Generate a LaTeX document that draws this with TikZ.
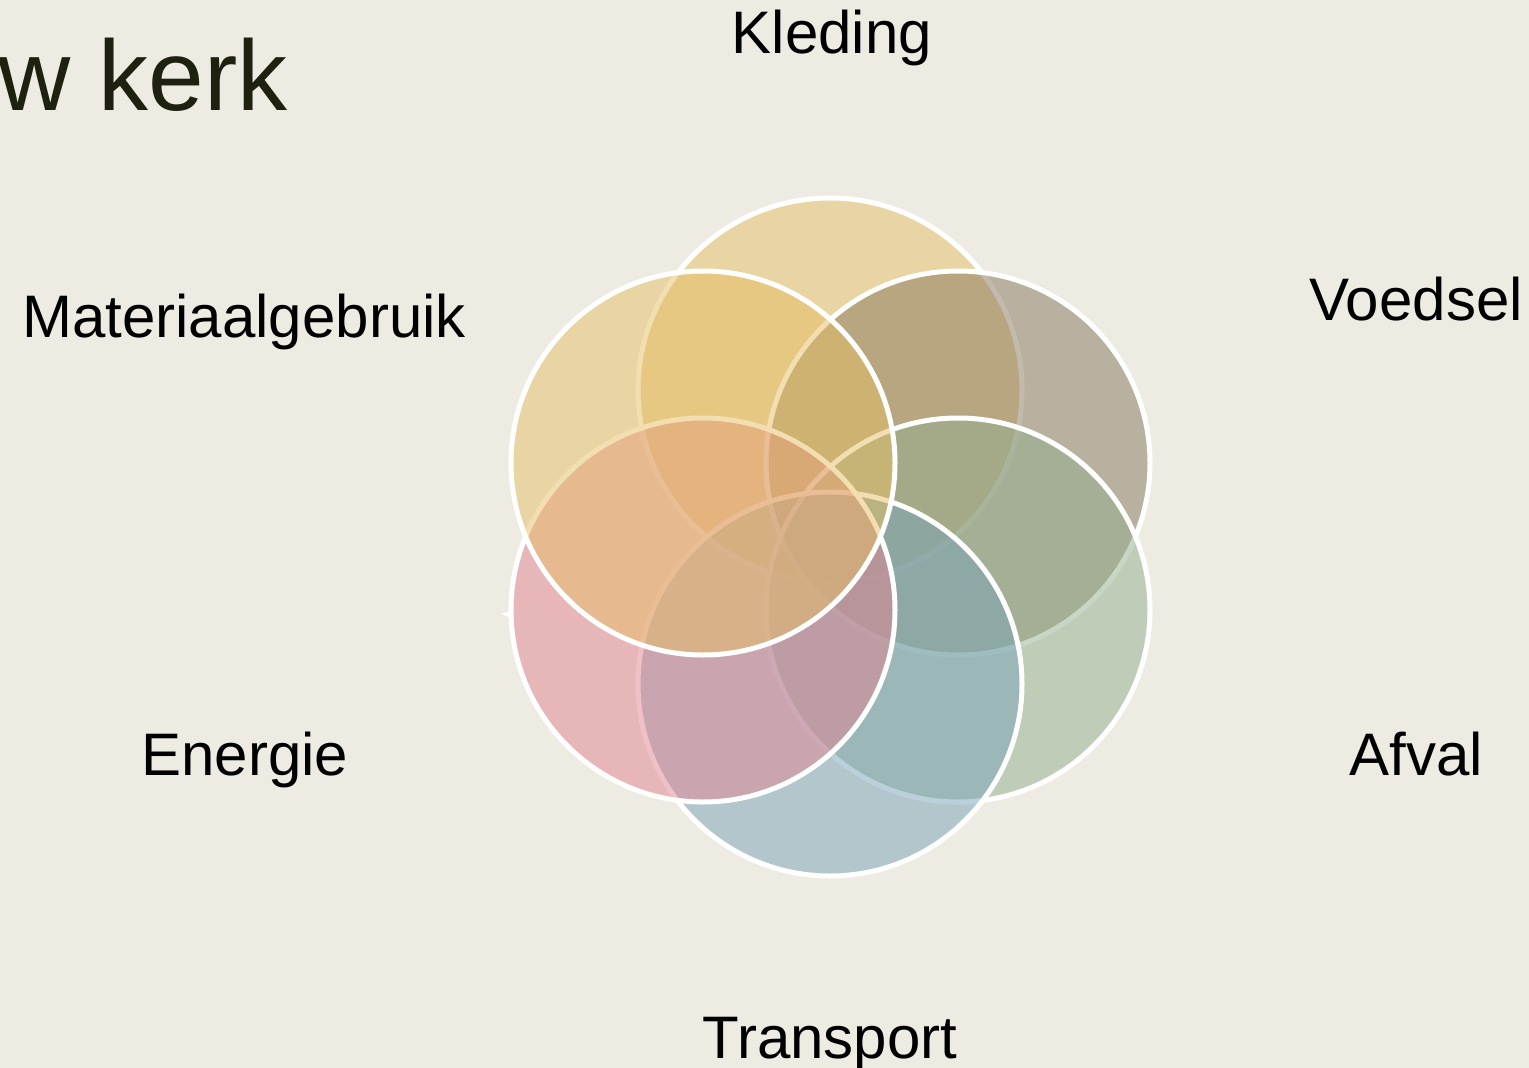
\documentclass[tikz,border=0pt]{standalone}
\usepackage{fontspec}
\setmainfont{Liberation Sans}
\definecolor{bgc}{RGB}{238,235,227}
\definecolor{cKled}{RGB}{230,190,100}
\definecolor{cVoed}{RGB}{134,121,93}
\definecolor{cAfv}{RGB}{146,175,143}
\definecolor{cTrans}{RGB}{120,163,183}
\definecolor{cEner}{RGB}{226,131,145}
\definecolor{cMat}{RGB}{230,190,100}
\definecolor{titlec}{RGB}{30,32,16}
\tikzset{
  petal/.style={fill opacity=0.5},
  rim/.style={draw=white, line width=5pt},
  lab/.style={font=\fontsize{60}{72}\selectfont, text=black, inner sep=0pt, anchor=base},
}
\begin{document}
\begin{tikzpicture}[x=1pt,y=1pt]
\fill[bgc] (0,0) rectangle (1529,-1068);
\useasboundingbox (0,0) rectangle (1529,-1068);
% title
\node[font=\fontsize{100}{120}\selectfont, text=titlec, inner sep=0pt, anchor=base east] (title) at (288,-110) {w kerk};
% circle centres
\coordinate (cK) at (830,-390);
\coordinate (cV) at (958,-463);
\coordinate (cA) at (958,-610);
\coordinate (cT) at (830,-684);
\coordinate (cE) at (703,-610);
\coordinate (cM) at (703,-463);
\foreach \c/\col in {cK/cKled, cV/cVoed, cA/cAfv, cT/cTrans, cE/cEner, cM/cMat}{
  \fill[\col, petal] (\c) circle[radius=192];
  \draw[rim] (\c) circle[radius=192];
}
% tiny artefact
\fill[white] (501,-614) -- (511,-611) -- (511,-618) -- cycle;
% labels
\node[lab] (lK) at (832,-53) {Kleding};
\node[lab] (lV) at (1416,-320) {Voedsel};
\node[lab] (lA) at (1416,-775) {Afval};
\node[lab] (lT) at (830,-1058) {Transport};
\node[lab] (lE) at (245,-775) {Energie};
\node[lab] (lM) at (244,-337) {Materiaalgebruik};
\end{tikzpicture}
\end{document}
